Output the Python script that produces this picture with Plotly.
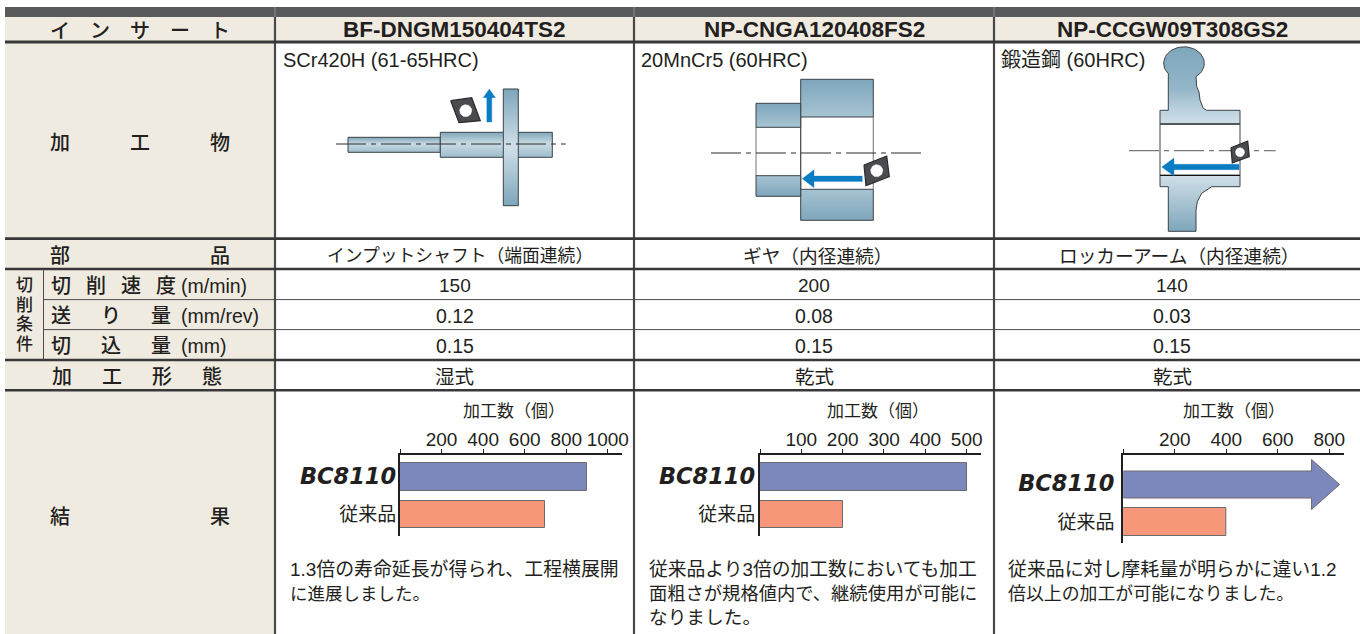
import numpy as np
import plotly.graph_objects as go

# ---- table content ----
inserts = ["BF-DNGM150404TS2", "NP-CNGA120408FS2", "NP-CCGW09T308GS2"]
workpieces = ["SCr420H (61-65HRC)", "20MnCr5 (60HRC)", "鍛造鋼 (60HRC)"]
parts = ["インプットシャフト\uff08端面連続\uff09", "ギヤ\uff08内径連続\uff09", "ロッカーアーム\uff08内径連続\uff09"]
cut_speed = ["150", "200", "140"]
feed = ["0.12", "0.08", "0.03"]
depth = ["0.15", "0.15", "0.15"]
coolant = ["湿式", "乾式", "乾式"]
series_names = ["BC8110", "従来品"]
axis_title = "加工数\uff08個\uff09"
ticks_a = [0, 200, 400, 600, 800, 1000]
ticks_b = [0, 100, 200, 300, 400, 500]
ticks_c = [0, 200, 400, 600, 800]
values_a = [900, 700]
values_b = [502, 200]
values_c = [840, 400]
notes_a = ["1.3倍の寿命延長が得られ、工程横展開", "に進展しました。"]
notes_b = ["従来品より3倍の加工数においても加工", "面粗さが規格値内で、継続使用が可能に", "なりました。"]
notes_c = ["従来品に対し摩耗量が明らかに違い1.2", "倍以上の加工が可能になりました。"]

W, H = 1360, 634
SANS = "Liberation Sans, Noto Sans CJK JP, sans-serif"
CJK = "Noto Sans CJK JP, sans-serif"
INK = "#231f20"
CREAM = "#f0ebe0"
BAR = "#585a5c"
LINE = "#404042"
BLUE = "#0a7cc4"
STEEL_D, STEEL_M, STEEL_L = "#7ea6bb", "#a6c4d3", "#d0dfe8"

fig = go.Figure()
shapes, notes = [], []


def rect(x0, y0, x1, y1, fill):
    shapes.append(dict(type="rect", xref="x", yref="y", x0=x0, y0=y0, x1=x1, y1=y1,
                       fillcolor=fill, line_width=0, layer="below"))


def hline(x0, x1, y, w, c=LINE):
    shapes.append(dict(type="line", xref="x", yref="y", x0=x0, x1=x1, y0=y, y1=y,
                       line=dict(color=c, width=w), layer="below"))


def vline(x, y0, y1, w, c=LINE):
    shapes.append(dict(type="line", xref="x", yref="y", x0=x, x1=x, y0=y0, y1=y1,
                       line=dict(color=c, width=w), layer="below"))


def text(x, y, s, size=18, anchor="center", family=SANS, color=INK, weight=None, align="center"):
    f = dict(size=size, family=family, color=color)
    if weight:
        f["weight"] = weight
    notes.append(dict(xref="x", yref="y", x=x, y=y, text=s, showarrow=False, xanchor=anchor, align=align,
                      yanchor="middle", font=f, borderpad=0, borderwidth=0))


def poly(pts, fill=None, stops=None, line=INK, lw=1.0):
    xs = [p[0] for p in pts] + [pts[0][0]]
    ys = [p[1] for p in pts] + [pts[0][1]]
    kw = dict(x=xs, y=ys, mode="lines", fill="toself", hoverinfo="skip", showlegend=False,
              line=dict(color=line, width=lw))
    if stops:
        # the y axis is reversed, so the gradient is given bottom-of-screen first
        kw["fillgradient"] = dict(type="vertical", colorscale=[[1 - p, c] for p, c in reversed(stops)])
        kw["fillcolor"] = "rgba(0,0,0,0)"
    else:
        kw["fillcolor"] = fill
    fig.add_trace(go.Scatter(**kw))


def box(x0, y0, x1, y1, stops, lw=1.0, line="#3c4347"):
    poly([(x0, y0), (x1, y0), (x1, y1), (x0, y1)], stops=stops, line=line, lw=lw)


def segment(x0, y0, x1, y1, c=INK, w=1.0, dash=None):
    fig.add_trace(go.Scatter(x=[x0, x1], y=[y0, y1], mode="lines", hoverinfo="skip", showlegend=False,
                             line=dict(color=c, width=w, dash=dash)))


def ellipse(cx, cy, rx, ry, a0=0.0, a1=2 * np.pi, n=48):
    t = np.linspace(a0, a1, n)
    return list(zip(cx + rx * np.cos(t), cy + ry * np.sin(t)))


def insert(pts, hole, r):
    poly(pts, fill="#4a4b4e", line="#2a2a2c", lw=1.2)
    poly(ellipse(hole[0], hole[1], r, r), fill="#ffffff", line="#ffffff", lw=0.5)


def arrow_left(tail, tip, head, y, half=2.7, hh=9):
    poly([(tail, y - half), (head, y - half), (head, y - hh), (tip, y), (head, y + hh),
          (head, y + half), (tail, y + half)], fill=BLUE, line=BLUE, lw=0.3)


# ---- table ----
rect(5, 7, W, 17, BAR)
rect(5, 17, W, 41, CREAM)
rect(5, 41, 275, H, CREAM)
for x in (275, 634, 994):
    vline(x, 17, H, 2.2, "#47484a")
    vline(x, 7, 17, 1, "#8a8b8d")
for y, w in ((42, 2.8), (238.6, 2.8), (269, 2.6), (360, 2.6), (390.2, 2.6)):
    hline(5, W, y, w, "#38383a")
vline(43.5, 269, 360, 1, "#4a4a4c")
hline(43.5, W, 299.6, 1, "#4a4a4c")
hline(43.5, W, 329.6, 1, "#4a4a4c")

col_c = [454.5, 814, 1172]
part_c = [459.5, 818, 1179.5]
part_size = [17.8, 18.7, 18.7]
row_label = 20
text(140, 29.5, "イ\u3000ン\u3000サ\u3000ー\u3000ト", row_label, family=CJK, weight=500)
text(140, 141, "加\u3000\u3000\u3000工\u3000\u3000\u3000物", row_label, family=CJK, weight=500)
text(140, 254.5, "部\u3000\u3000\u3000\u3000\u3000\u3000\u3000品", row_label, family=CJK, weight=500)
text(136.5, 375.5, "加\u3000\u2002工\u3000\u2002形\u3000\u2002態", row_label, family=CJK, weight=500)
text(140, 515, "結\u3000\u3000\u3000\u3000\u3000\u3000\u3000果", row_label, family=CJK, weight=500)
text(51, 284.5, "切\u2002\u2005削\u2002\u2005速\u2002\u2005度", row_label, anchor="left", family=CJK, weight=500)
text(51, 314.5, "送\u3000\u2002り\u3000\u2002量", row_label, anchor="left", family=CJK, weight=500)
text(51, 344.5, "切\u3000\u2002込\u3000\u2002量", row_label, anchor="left", family=CJK, weight=500)
text(180.5, 286, "(m/min)", 19.5, anchor="left")
text(180.5, 316, "(mm/rev)", 19.5, anchor="left")
text(180.5, 346, "(mm)", 19.5, anchor="left")
side = "<br>".join('<span style="font-size:17px">%s</span>' % ch for ch in "切削条件")
text(24, 314.5, side, 15.1, family=SANS, weight=500)

for i in range(3):
    text(col_c[i], 29.5, f"<b>{inserts[i]}</b>", 22.5)
    text(part_c[i], 254, parts[i], part_size[i], family=CJK)
    text(col_c[i], 285.5, cut_speed[i], 19)
    text(col_c[i], 315.5, feed[i], 19.5)
    text(col_c[i], 345.5, depth[i], 19.5)
    text(col_c[i], 375.5, coolant[i], 19.5, family=CJK)
for x, s in zip((282.5, 641, 1001), workpieces):
    text(x, 60, s, 20, anchor="left")

# each note is one text; the block's own font size sets the 24 px line pitch
note_sizes = ((18.9, 17.5), (18.8, 18.3, 18.7), (18.9, 17.9))
for x, lines, szs in zip((290, 649, 1008), (notes_a, notes_b, notes_c), note_sizes):
    block = "<br>".join('<span style="font-size:%spx">%s</span>' % (z, s) for z, s in zip(szs, lines))
    text(x, 569.5 + 12 * (len(lines) - 1), block, 18.46, anchor="left", family=SANS, align="left")

# ---- workpiece 1 ----
shaft = [[0, "#7fa6ba"], [0.45, "#c9dbe4"], [1, "#9dbccc"]]
disc = [[0, STEEL_D], [0.5, STEEL_L], [1, STEEL_D]]
box(348, 137.3, 440.3, 152.3, shaft)
box(440.3, 132.3, 552.3, 157.3, shaft)
box(503.3, 89, 518.3, 205.7, disc)
segment(336, 144, 565.7, 144, "#2a2a2c", 1, "30px,5px,5px,5px")
insert([(450.7, 100.7), (471.7, 97.7), (480.3, 120.7), (459, 122.7)], (465.7, 110.7), 6)
poly([(486.8, 122), (486.8, 97.7), (483.2, 97.7), (489.3, 89), (495.5, 97.7), (491.8, 97.7), (491.8, 122)],
     fill=BLUE, line=BLUE, lw=0.3)

# ---- workpiece 2 ----
dn = [[0, STEEL_D], [1, STEEL_M]]
up = [[0, STEEL_M], [1, STEEL_D]]
segment(756, 127, 756, 176, "#8c8c8e", 1.2)
segment(873.3, 117, 873.3, 189, "#8c8c8e", 1.2)
segment(800.7, 117, 800.7, 189, "#3c4347", 1.2)
box(800.7, 79.3, 873.3, 117, dn)
box(800.7, 189.3, 873.3, 220.3, up)
box(756, 103.3, 800.7, 127.3, dn)
box(756, 175.7, 800.7, 196.3, up)
segment(711, 153, 925, 153, "#2a2a2c", 1, "30px,5px,5px,5px")
arrow_left(862.3, 802.3, 814, 178.7)
insert([(864, 165), (886.7, 156), (889.3, 176.7), (866, 185.7)], (876.7, 170.7), 6)

# ---- workpiece 3 ----
top = ellipse(1184, 63.3, 20.3, 16.5, np.radians(140), np.radians(414))
outline = top + [(1196, 76.7), (1196.7, 86.7), (1199, 92), (1200, 100), (1203.3, 108.3), (1206.7, 110.3),
                 (1240, 110.3), (1240, 124), (1160, 124), (1160, 110.3), (1168.3, 110.3), (1168.3, 75)]
poly(outline, stops=[[0, STEEL_D], [0.55, "#94b6c8"], [0.82, "#bcd2de"], [1, STEEL_L]], line="#3c4347")
lower = [(1160, 175.3), (1240, 175.3), (1240, 186.7), (1211.7, 186.7), (1201.7, 193.3), (1197.3, 201.7), (1196, 210),
         (1196, 231.3), (1168.3, 231.3), (1168.3, 186.7), (1160, 186.7)]
poly(lower, stops=[[0, STEEL_L], [1, STEEL_D]], line="#3c4347")
segment(1160, 124, 1160, 175.3, "#3c4347", 1)
segment(1240, 124, 1240, 175.3, "#3c4347", 1)
segment(1160, 124, 1240, 124, "#3c4347", 1.6)
segment(1160, 175.3, 1240, 175.3, "#111111", 1.2)
segment(1129, 150.7, 1275.7, 150.7, "#77787a", 1.2, "30px,5px,5px,5px")
arrow_left(1239, 1161.7, 1174, 167)
insert([(1231, 147.7), (1247.7, 141), (1249.3, 156.7), (1232.3, 163)], (1240, 152.3), 4.5)

# ---- charts ----
PITCH = 37.5
BAR_W = 27.5 / PITCH
COL_A, COL_B = "#7c88bc", "#f59778"
EDGE = "#6a6a70"
panels = [
    dict(n=2, x0=400, x1=621.7, xmax=1067, bottom=536, first=477, ticks=ticks_a, vals=values_a, title=513.5, arrow=False, off=-2),
    dict(n=3, x0=760, x1=981, xmax=534.7, bottom=536, first=477, ticks=ticks_b, vals=values_b, title=877.5, arrow=False, off=-1),
    dict(n=4, x0=1123.3, x1=1344, xmax=857, bottom=543, first=484.5, ticks=ticks_c, vals=values_c, title=1233.5, arrow=True, off=3),
]
AXIS_Y = 455
layout_axes = {}
label_logo = '<span style="font-family:DejaVu Sans;font-size:22.5px"><b><i>%s</i></b></span>' % series_names[0]
for p in panels:
    n = p["n"]
    xa, ya = f"x{n}", f"y{n}"
    top_units = -(p["first"] - AXIS_Y) / PITCH
    bot_units = (p["bottom"] - p["first"]) / PITCH
    if p["arrow"]:
        v = p["vals"][0]
        head = v - 109
        bh, hh = 13.5 / PITCH, 25 / PITCH
        fig.add_trace(go.Scatter(x=[0, head, head, v, head, head, 0, 0], y=[-bh, -bh, -hh, 0, hh, bh, bh, -bh],
                                 xaxis=xa, yaxis=ya, mode="lines", fill="toself", fillcolor=COL_A,
                                 line=dict(color=EDGE, width=1), showlegend=False, name=series_names[0]))
        ys, xs, cols = [1], p["vals"][1:], [COL_B]
    else:
        ys, xs, cols = [0, 1], p["vals"], [COL_A, COL_B]
    fig.add_trace(go.Bar(x=xs, y=ys, xaxis=xa, yaxis=ya, orientation="h", width=BAR_W, showlegend=False,
                         marker=dict(color=cols, line=dict(color=EDGE, width=1))))
    layout_axes[f"xaxis{n}"] = dict(
        domain=[p["x0"] / W, p["x1"] / W], range=[0, p["xmax"]], anchor=ya, side="top", automargin=False,
        tickmode="array", tickvals=p["ticks"], ticktext=[""] + [str(t) for t in p["ticks"][1:]],
        ticks="outside", ticklen=4, tickwidth=1, tickcolor=INK, showline=True, linecolor=INK, linewidth=2,
        ticklabelstandoff=-5, showgrid=False, zeroline=False, tickfont=dict(size=19, family=SANS, color=INK), fixedrange=True)
    layout_axes[f"yaxis{n}"] = dict(
        domain=[1 - p["bottom"] / H, 1 - AXIS_Y / H], range=[bot_units, top_units], anchor=xa, automargin=False,
        tickmode="array", tickvals=[0, 1], ticktext=[label_logo, series_names[1]], ticks="", showline=True,
        linecolor=INK, linewidth=2, showgrid=False, zeroline=False, ticklabelstandoff=p["off"],
        tickfont=dict(size=19, family=CJK, color=INK), fixedrange=True)
    text(p["title"], 409.5, axis_title, 17, family=CJK)

fig.update_layout(
    width=W, height=H, margin=dict(l=0, r=0, t=0, b=0, pad=0), autosize=False,
    paper_bgcolor="#ffffff", plot_bgcolor="rgba(0,0,0,0)", showlegend=False, bargap=0,
    xaxis=dict(domain=[0, 1], range=[0, W], visible=False, fixedrange=True, automargin=False),
    yaxis=dict(domain=[0, 1], range=[H, 0], visible=False, fixedrange=True, automargin=False),
    shapes=shapes, annotations=notes, **layout_axes)

fig.write_html("out.html", config={"displayModeBar": False},
               post_script="document.body.style.margin='0';document.documentElement.style.overflow='hidden';")
